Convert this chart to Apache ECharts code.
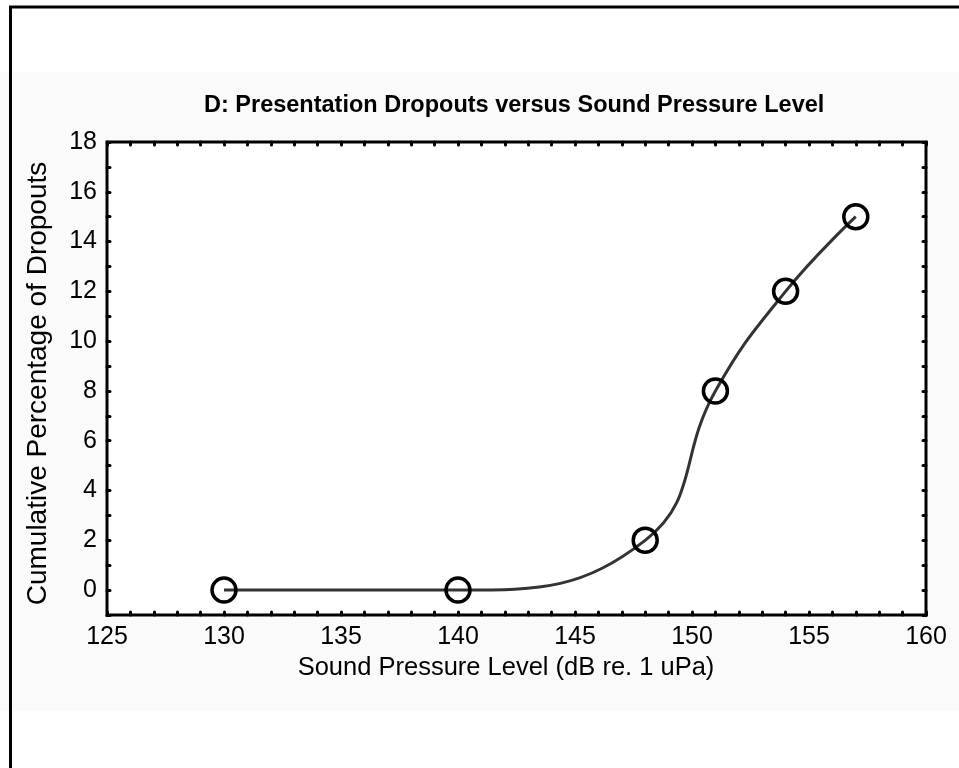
<!DOCTYPE html>
<html>
<head>
<meta charset="utf-8">
<script src="https://cdn.jsdelivr.net/npm/echarts@6/dist/echarts.min.js"></script>
<style>
  html, body { margin: 0; padding: 0; background: #fff; }
  #chart { width: 959px; height: 768px; }
</style>
</head>
<body>
<div id="chart"></div>
<script>
// sound pressure level (dB re. 1 uPa) and cumulative % of dropouts
var levels = [130, 140, 148, 151, 154, 157];
var dropouts = [0, 0, 2, 8, 12, 15];

var xTicks = [125, 130, 135, 140, 145, 150, 155, 160];
var yTicks = [0, 2, 4, 6, 8, 10, 12, 14, 16, 18];

var chart = echarts.init(document.getElementById('chart'));

var FONT = 'Liberation Sans, Arial, sans-serif';
var tickStyle = { color: '#000', width: 3, cap: 'round' };
var labelFont = { color: '#000', fontFamily: FONT, fontSize: 25 };

function xAxisDef(pos, showLabels) {
  return {
    type: 'value', position: pos,
    min: xTicks[0], max: xTicks[xTicks.length - 1], interval: 5,
    axisLine: { show: false, onZero: false },
    axisTick: { show: true, inside: true, length: 3, lineStyle: tickStyle },
    minorTick: { show: true, splitNumber: 5, length: 3, lineStyle: tickStyle },
    splitLine: { show: false },
    axisLabel: Object.assign({ show: showLabels, margin: 10 }, labelFont)
  };
}
function yAxisDef(pos, showLabels) {
  return {
    type: 'value', position: pos,
    min: -1, max: 18, interval: 1,
    axisLine: { show: false, onZero: false },
    axisTick: { show: true, inside: true, length: 3, lineStyle: tickStyle },
    splitLine: { show: false },
    axisLabel: Object.assign({
      show: showLabels, margin: 10,
      formatter: function (v) { return yTicks.indexOf(v) >= 0 ? String(v) : ''; }
    }, labelFont)
  };
}

var xBottom = xAxisDef('bottom', true);
xBottom.name = 'Sound Pressure Level (dB re. 1 uPa)';
xBottom.nameLocation = 'middle';
xBottom.nameGap = 33;
xBottom.nameTextStyle = { color: '#000', fontFamily: FONT, fontSize: 25.5, padding: [0, 21, 0, 0] };

var yLeft = yAxisDef('left', true);
yLeft.name = 'Cumulative Percentage of Dropouts';
yLeft.nameLocation = 'middle';
yLeft.nameGap = 55;
yLeft.nameTextStyle = { color: '#000', fontFamily: FONT, fontSize: 28, padding: [0, 10, 0, 0] };

chart.setOption({
  animation: false,
  backgroundColor: '#fff',
  graphic: [
    { type: 'rect', shape: { x: 0, y: 72, width: 959, height: 639 }, style: { fill: '#fafafa' }, z: -10 },
    { type: 'line', shape: { x1: 10.5, y1: 7, x2: 10.5, y2: 768 }, style: { stroke: '#000', lineWidth: 3 } },
    { type: 'line', shape: { x1: 9, y1: 7, x2: 959, y2: 7 }, style: { stroke: '#000', lineWidth: 3 } }
  ],
  title: {
    text: 'D: Presentation Dropouts versus Sound Pressure Level',
    left: 199, top: 89,
    textStyle: { color: '#000', fontFamily: FONT, fontWeight: 'bold', fontSize: 23.5 }
  },
  grid: {
    left: 107, top: 142, width: 819, height: 473,
    show: true, backgroundColor: '#fff', borderColor: '#000', borderWidth: 3
  },
  xAxis: [xBottom, xAxisDef('top', false)],
  yAxis: [yLeft, yAxisDef('right', false)],
  series: [{
    type: 'line',
    xAxisIndex: 0, yAxisIndex: 0,
    data: levels.map(function (x, i) { return [x, dropouts[i]]; }),
    smooth: 0.45,
    lineStyle: { color: '#333', width: 3 },
    symbol: 'circle', symbolSize: 24,
    itemStyle: { color: 'rgba(0,0,0,0)', borderColor: '#000', borderWidth: 3.5 }
  }]
});
</script>
</body>
</html>
